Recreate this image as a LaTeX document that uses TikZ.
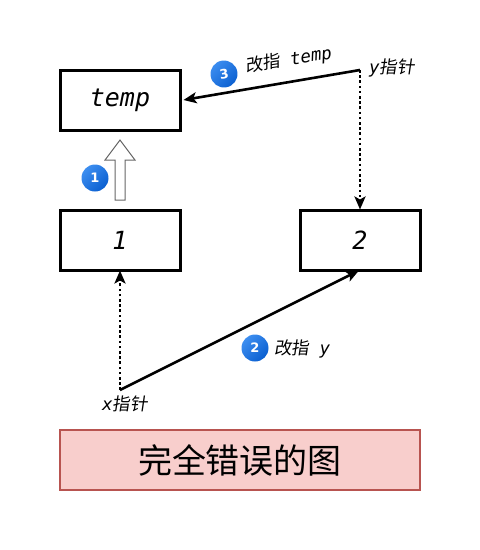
\documentclass[tikz,border=0pt]{standalone}
\usepackage{fontspec}
\usetikzlibrary{arrows.meta,shadings}
\newfontfamily\cjk[FakeSlant=0.15]{Noto Sans CJK SC}
\newfontfamily\cjkup{Noto Sans CJK SC}
\newfontfamily\monoit{DejaVu Sans Mono Oblique}
\newfontfamily\badgefont{DejaVu Sans Bold}
\definecolor{badgeA}{HTML}{3D8EF0}
\definecolor{badgeB}{HTML}{0A5FD0}
\definecolor{redfill}{HTML}{F8CECC}
\definecolor{redline}{HTML}{B85450}
\tikzset{
  box/.style={draw=black, line width=3pt, minimum width=120pt, minimum height=60pt, inner sep=0pt, font=\monoit\fontsize{25}{28}\selectfont},
  badge/.style={circle, inner sep=0pt, minimum size=27pt, left color=badgeA, right color=badgeB, shading angle=45, text=white, font=\badgefont\fontsize{13}{15}\selectfont},
  lbl/.style={inner sep=1pt, font=\fontsize{17.5}{20}\selectfont},
  solidarrow/.style={line width=2.6pt, -{Stealth[length=13pt,width=11pt,inset=3pt]}},
  dotarrow/.style={line width=2.6pt, dash pattern=on 2.6pt off 2.6pt, -{Stealth[length=13pt,width=11pt,inset=3pt]}},
}
\begin{document}
\begin{tikzpicture}[x=1pt,y=-1pt]
\useasboundingbox (0,0) rectangle (480,550);
\node[box] (temp) at (120,100) {temp};
\node[box] (one) at (120,240) {1};
\node[box] (two) at (360,240) {2};
\node[draw=redline, fill=redfill, line width=1.8pt, minimum width=360pt, minimum height=60pt, inner sep=0pt, font=\cjkup\fontsize{34}{38}\selectfont] (title) at (240,460) {完全错误的图};

% hollow arrow
\draw[draw=gray!80!black, fill=white, line width=1pt]
  (115,200) -- (115,160) -- (105,160) -- (120,140) -- (135,160) -- (125,160) -- (125,200) -- cycle;
\node[badge] (b1) at (95,178) {1};

\coordinate (xp) at (120,390);
\coordinate (yp) at (360,70);

\draw[dotarrow] (xp) -- ([yshift=1pt]one.south);
\draw[solidarrow] (xp) -- ([xshift=-1pt,yshift=1pt]two.south);
\draw[dotarrow] (yp) -- ([yshift=-1pt]two.north);
\draw[solidarrow] (yp) -- ([xshift=2pt]temp.east);

\node[lbl, anchor=north] (xl) at (125,395) {{\monoit x}{\cjk 指针}};
\node[lbl, anchor=west] (yl) at (368,68) {{\monoit y}{\cjk 指针}};

\node[badge] (b2) at (255,348) {2};
\node[lbl, anchor=west] (l2) at (273,349) {{\cjk 改指}{\monoit\ y}};

\node[badge, rotate=9] (b3) at (224,74) {3};
\node[lbl, anchor=west, rotate=9] (l3) at (244,67) {{\cjk 改指}{\monoit\ temp}};
\end{tikzpicture}
\end{document}
